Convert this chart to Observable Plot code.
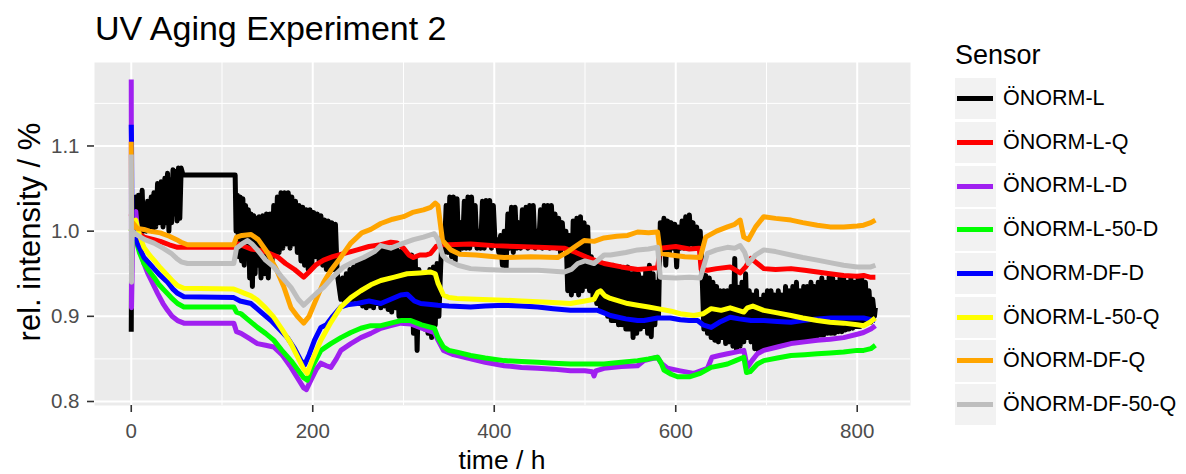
<!DOCTYPE html>
<html>
<head>
<meta charset="utf-8">
<script src="https://cdn.jsdelivr.net/npm/d3@7"></script>
<script src="https://cdn.jsdelivr.net/npm/@observablehq/plot@0.6"></script>
<style>
  html, body { margin: 0; padding: 0; background: #ffffff; }
  #wrap { position: relative; width: 1186px; height: 474px; overflow: hidden; background: #ffffff;
          font-family: "Liberation Sans", Arial, Helvetica, sans-serif; color: #000; }
  #chart { position: absolute; left: 0; top: 0; }
  .abs { position: absolute; white-space: nowrap; line-height: 1; }
  #title { left: 95px; top: 11px; font-size: 34px; }
  #xlab { left: 502px; top: 447px; font-size: 26.5px; transform: translateX(-50%); }
  #ylab { left: 29px; top: 232px; font-size: 31px; transform: translate(-50%, -50%) rotate(-90deg); }
  #legend { left: 955px; top: 42px; }
  #legend .ltitle { font-size: 27px; line-height: 27px; height: 35px; }
  #legend .row { display: flex; align-items: center; height: 43.7px; }
  #legend .key { width: 41px; height: 41.3px; background: #F2F2F2; display: flex; align-items: center; }
  #legend .key span { display: block; width: 36px; height: 5px; margin-left: 2px; }
  #legend .lab { font-size: 21.5px; margin-left: 7px; }
</style>
</head>
<body>
<div id="wrap">
  <div id="chart"></div>
  <div id="title" class="abs"></div>
  <div id="xlab" class="abs"></div>
  <div id="ylab" class="abs"></div>
  <div id="legend" class="abs"></div>
</div>
<script>
// ---------- text ----------
const titleText = "UV Aging Experiment 2";
const xLabel = "time / h";
const yLabel = "rel. intensity / %";
const legendTitle = "Sensor";

// ---------- categories & colours ----------
const sensors = ["ÖNORM-L", "ÖNORM-L-Q", "ÖNORM-L-D", "ÖNORM-L-50-D", "ÖNORM-DF-D", "ÖNORM-L-50-Q", "ÖNORM-DF-Q", "ÖNORM-DF-50-Q"];
const colors  = ["#000000", "#FF0000", "#A020F0", "#00FF00", "#0000FF", "#FFFF00", "#FFA500", "#BEBEBE"];

// ---------- ticks ----------
const xTicks = [0, 200, 400, 600, 800];
const xMinor = [100, 300, 500, 700];
const yTicks = [0.8, 0.9, 1.0, 1.1];
const yMinor = [0.85, 0.95, 1.05, 1.15];
const yTickLabels = ["0.8", "0.9", "1.0", "1.1"];

// ---------- series values: [time h, rel. intensity] ----------
const onormL = [
[0,0.882],[0.5,1.0],[2,1.035],[3.5,1.0],[5,1.04],[6.5,0.995],[8,1.042],[10,1.005],[12,1.048],[13.5,1.0],
[15,1.03],[16.5,1.0],[18,1.035],[20,1.005],[22,1.04],[23.5,1.0],[25,1.045],[27,1.005],[29,1.056],[31,1.01],
[33,1.058],[35,1.005],[37,1.062],[38.5,1.01],[40,1.068],[41.5,1.0],[43,1.06],[44.5,1.01],[46,1.072],[47.5,1.02],
[49,1.07],[50.5,1.012],[52,1.074],[53.5,1.015],[55,1.074],[57,1.066],[113,1.066],[114.5,1.066],[115.5,1.0],
[117,1.042],[118.5,0.97],[120,1.04],[121.5,0.965],[123,1.038],[124.5,0.96],[126,1.03],[127.5,0.97],[129,1.025],
[130.5,0.945],[132,1.02],[133.5,0.935],[135,1.018],[136.5,0.95],[138,1.015],[139.5,0.96],[141,1.017],[143,0.945],
[145,1.018],[147,0.95],[149,1.02],[151,0.945],[153,1.02],[155,0.96],[157,1.03],[159,0.975],[161,1.04],[163,0.975],
[165,1.045],[167,0.98],[169,1.045],[171,0.985],[173,1.045],[175,0.98],[177,1.04],[179,0.985],[181,1.035],[183,0.975],
[185,1.03],[187,0.965],[189,1.028],[191,0.96],[193,1.025],[195,0.955],[197,1.025],[199,0.96],[201,1.022],[203,0.97],
[205,1.02],[207,0.965],[209,1.018],[211,0.96],[213,1.013],[215,0.955],[217,1.012],[219,0.952],[221,1.01],[223,0.955],
[225,1.008],[227,0.95],[229,0.935],[231,0.92],[233,0.945],[235,0.915],[237,0.95],[239,0.918],[241,0.955],[243,0.915],
[245,0.958],[247,0.92],[249,0.962],[251,0.915],[253,0.966],[255,0.912],[257,0.968],[259,0.91],[261,0.97],[263,0.912],
[265,0.972],[267,0.91],[269,0.975],[271,0.915],[273,0.978],[275,0.91],[277,0.98],[279,0.912],[281,0.978],[283,0.908],
[285,0.98],[287,0.905],[289,0.978],[291,0.91],[293,0.978],[295,0.9],[297,0.976],[299,0.898],[301,0.975],[303,0.9],
[305,0.97],[307,0.895],[309,0.972],[311,0.88],[313,0.968],[315,0.86],[317,0.955],[319,0.89],[321,0.95],[323,0.885],
[325,0.948],[327,0.88],[329,0.955],[331,0.875],[333,0.958],[335,0.89],[337,0.962],[339,0.9],[341,0.96],[343,1.0],
[345,0.975],[347,1.03],[349,0.975],[351,1.04],[353,0.97],[355,1.04],[357,0.965],[359,1.038],[361,0.975],[363,1.01],
[365,0.98],[367,1.035],[369,0.98],[371,1.04],[373,0.98],[375,1.04],[377,0.985],[379,1.03],[381,0.98],[383,1.0],
[385,0.98],[387,1.035],[389,0.98],[391,1.036],[393,0.985],[395,1.036],[397,0.98],[399,1.03],[401,0.985],[403,0.99],
[405,0.975],[407,0.995],[409,0.96],[411,1.0],[413,0.955],[415,1.02],[417,0.98],[419,1.028],[421,0.975],[423,1.028],
[425,0.98],[427,1.01],[429,0.98],[431,1.025],[433,0.985],[435,1.028],[437,0.98],[439,1.03],[441,0.985],[443,1.03],
[445,0.98],[447,1.0],[449,0.985],[451,1.025],[453,0.98],[455,1.03],[457,0.985],[459,1.03],[461,0.98],[463,1.03],
[465,0.985],[467,1.02],[469,0.98],[471,1.015],[473,0.975],[475,1.01],[477,0.98],[479,1.0],[481,0.93],[483,0.995],
[485,0.925],[487,1.012],[489,0.93],[491,1.015],[493,0.925],[495,1.017],[497,0.93],[499,1.01],[501,0.935],[503,1.005],
[505,0.93],[507,0.97],[509,0.92],[511,0.965],[513,0.915],[515,0.96],[517,0.91],[519,0.958],[521,0.905],[523,0.96],
[525,0.9],[527,0.958],[529,0.895],[531,0.96],[533,0.895],[535,0.955],[537,0.89],[539,0.958],[541,0.89],[543,0.955],
[545,0.885],[547,0.958],[549,0.885],[551,0.95],[553,0.875],[555,0.955],[557,0.88],[559,0.95],[561,0.885],[563,0.945],
[565,0.888],[567,0.955],[569,0.88],[571,0.96],[573,0.876],[575,0.95],[577,0.89],[579,0.94],[581,0.9],[583,1.01],
[585,0.975],[587,1.015],[589,0.96],[591,1.012],[593,0.975],[595,1.01],[597,0.98],[599,1.008],[601,0.958],[603,1.005],
[605,0.98],[607,1.012],[609,0.98],[611,1.017],[613,0.98],[615,1.019],[617,0.985],[619,1.01],[621,0.98],[623,1.005],
[625,0.985],[627,1.0],[629,0.95],[631,0.885],[633,0.948],[635,0.88],[637,0.945],[639,0.875],[641,0.94],[643,0.872],
[645,0.935],[647,0.87],[649,0.93],[651,0.875],[653,0.93],[655,0.868],[657,0.93],[659,0.87],[661,0.935],[663,0.865],
[665,0.968],[667,0.86],[669,0.934],[671,0.865],[673,0.94],[675,0.87],[677,0.95],[679,0.875],[681,0.93],[683,0.87],
[685,0.925],[687,0.862],[689,0.93],[691,0.86],[693,0.92],[695,0.862],[697,0.925],[699,0.865],[701,0.93],[703,0.865],
[705,0.93],[707,0.864],[709,0.925],[711,0.868],[713,0.93],[715,0.868],[717,0.925],[719,0.868],[721,0.935],[723,0.87],
[725,0.93],[727,0.87],[729,0.935],[731,0.872],[733,0.94],[735,0.872],[737,0.93],[739,0.874],[741,0.935],[743,0.875],
[745,0.935],[747,0.874],[749,0.94],[751,0.876],[753,0.935],[755,0.875],[757,0.94],[759,0.878],[761,0.945],[763,0.878],
[765,0.94],[767,0.88],[769,0.946],[771,0.88],[773,0.945],[775,0.88],[777,0.94],[779,0.882],[781,0.945],[783,0.882],
[785,0.946],[787,0.884],[789,0.94],[791,0.885],[793,0.945],[795,0.886],[797,0.94],[799,0.888],[801,0.946],[803,0.888],
[805,0.946],[807,0.89],[809,0.94],[811,0.892],[813,0.93],[815,0.893],[817,0.92],[819,0.9],[820,0.91]
];

const onormLQ = [
[0,1.02],[1,1.01],[5,1.0],[14,0.993],[25,0.99],[32,0.988],[42,0.984],[51,0.981],[60,0.981],[113,0.981],[118,0.985],
[125,0.982],[132,0.979],[139,0.978],[150,0.975],[161,0.97],[170,0.962],[180,0.955],[190,0.946],[196,0.952],[203,0.96],
[212,0.966],[222,0.97],[235,0.974],[249,0.978],[262,0.982],[275,0.984],[286,0.987],[293,0.986],[300,0.98],[306,0.972],
[311,0.969],[318,0.972],[325,0.972],[330,0.974],[336,0.982],[342,0.984],[350,0.984],[374,0.985],[400,0.983],[425,0.982],
[448,0.981],[477,0.98],[490,0.975],[505,0.968],[521,0.962],[540,0.958],[558,0.955],[570,0.956],[580,0.957],[583,0.98],
[600,0.982],[615,0.979],[626,0.98],[628,0.955],[635,0.954],[645,0.956],[660,0.958],[671,0.951],[677,0.958],[683,0.968],
[690,0.962],[697,0.956],[710,0.955],[727,0.956],[742,0.954],[756,0.952],[770,0.95],[785,0.948],[800,0.947],[807,0.948],
[814,0.946],[820,0.946]
];

const onormLD = [
[0,1.178],[0.3,0.91],[0.8,0.94],[2,1.02],[5,1.023],[7,1.0],[10,0.978],[14,0.962],[18,0.951],[23,0.94],[29,0.927],
[35,0.915],[40,0.907],[45,0.9],[51,0.895],[58,0.892],[113,0.892],[116,0.882],[121,0.88],[130,0.874],[139,0.868],
[148,0.866],[157,0.864],[166,0.855],[176,0.84],[183,0.828],[190,0.816],[193,0.814],[198,0.825],[204,0.838],[209,0.845],
[215,0.842],[220,0.84],[226,0.85],[231,0.86],[242,0.868],[253,0.875],[264,0.88],[275,0.886],[286,0.889],[297,0.892],
[308,0.891],[320,0.886],[334,0.881],[338,0.872],[344,0.86],[355,0.855],[374,0.85],[390,0.846],[411,0.842],[430,0.84],
[448,0.839],[465,0.838],[484,0.836],[500,0.836],[508,0.835],[510,0.83],[512,0.836],[521,0.839],[540,0.841],[558,0.842],
[565,0.848],[580,0.852],[584,0.845],[591,0.839],[605,0.836],[620,0.833],[635,0.839],[640,0.852],[648,0.854],[657,0.856],
[666,0.858],[675,0.86],[679,0.84],[684,0.848],[690,0.856],[697,0.86],[712,0.864],[727,0.868],[742,0.87],[756,0.872],
[770,0.873],[785,0.875],[800,0.879],[807,0.881],[815,0.885],[820,0.889]
];

const onormL50D = [
[0,1.0],[1,1.01],[5,0.99],[9,0.975],[14,0.962],[20,0.953],[25,0.946],[30,0.938],[36,0.931],[44,0.922],[51,0.915],
[58,0.911],[113,0.911],[116,0.905],[121,0.903],[130,0.895],[139,0.887],[148,0.88],[157,0.872],[166,0.86],[176,0.848],
[183,0.838],[190,0.828],[194,0.825],[200,0.842],[209,0.86],[220,0.868],[231,0.875],[242,0.881],[253,0.886],[264,0.889],
[275,0.889],[286,0.892],[297,0.895],[308,0.895],[320,0.89],[334,0.886],[338,0.875],[344,0.864],[350,0.86],[359,0.858],
[374,0.854],[390,0.851],[411,0.848],[430,0.847],[448,0.846],[465,0.845],[484,0.844],[500,0.844],[521,0.844],[540,0.846],
[558,0.848],[570,0.85],[580,0.852],[584,0.845],[587,0.837],[595,0.832],[602,0.829],[615,0.829],[627,0.833],[639,0.84],
[648,0.842],[657,0.844],[666,0.848],[675,0.852],[678,0.834],[682,0.835],[690,0.844],[697,0.848],[712,0.851],[727,0.854],
[742,0.855],[756,0.856],[770,0.857],[785,0.858],[800,0.86],[807,0.86],[815,0.862],[820,0.866]
];

const onormDFD = [
[0,1.125],[0.3,1.105],[0.8,1.0],[2,1.005],[7,0.985],[14,0.969],[20,0.962],[25,0.956],[32,0.948],[40,0.94],[46,0.932],
[51,0.927],[58,0.923],[113,0.922],[120,0.918],[132,0.915],[143,0.905],[154,0.895],[163,0.885],[172,0.875],[180,0.862],
[187,0.848],[191,0.843],[196,0.855],[202,0.872],[209,0.887],[215,0.89],[222,0.9],[231,0.911],[240,0.914],[249,0.915],
[262,0.918],[275,0.915],[286,0.92],[297,0.925],[304,0.926],[312,0.918],[319,0.915],[330,0.914],[338,0.913],[350,0.912],
[374,0.911],[390,0.912],[411,0.913],[430,0.912],[448,0.911],[465,0.909],[484,0.907],[500,0.907],[514,0.907],[521,0.904],
[528,0.901],[545,0.897],[558,0.895],[565,0.895],[580,0.898],[594,0.898],[605,0.896],[615,0.895],[624,0.895],[630,0.89],
[639,0.887],[648,0.893],[660,0.899],[670,0.897],[683,0.895],[697,0.895],[712,0.894],[727,0.893],[740,0.895],[756,0.897],
[771,0.898],[785,0.898],[800,0.898],[807,0.898],[820,0.895]
];

const onormL50Q = [
[0,1.0],[1,1.01],[5,1.013],[9,0.995],[14,0.981],[20,0.972],[25,0.966],[32,0.957],[40,0.948],[46,0.941],[51,0.936],
[58,0.933],[113,0.932],[118,0.93],[125,0.927],[132,0.924],[139,0.919],[148,0.91],[157,0.899],[166,0.885],[176,0.868],
[183,0.853],[190,0.838],[194,0.833],[200,0.85],[209,0.872],[220,0.893],[231,0.911],[242,0.922],[253,0.93],[264,0.937],
[275,0.942],[290,0.946],[304,0.95],[318,0.951],[330,0.952],[335,0.95],[338,0.939],[344,0.925],[350,0.922],[359,0.921],
[380,0.92],[411,0.919],[430,0.918],[448,0.917],[470,0.916],[484,0.915],[500,0.918],[510,0.92],[514,0.928],[517,0.93],
[522,0.924],[528,0.921],[547,0.915],[558,0.913],[570,0.911],[580,0.909],[595,0.906],[605,0.903],[620,0.901],[630,0.903],
[639,0.909],[650,0.907],[660,0.91],[675,0.905],[679,0.91],[685,0.912],[697,0.907],[712,0.904],[727,0.901],[740,0.898],
[756,0.895],[770,0.893],[785,0.892],[800,0.89],[807,0.889],[814,0.893],[820,0.898]
];

const onormDFQ = [
[0,1.105],[0.5,0.99],[1.5,1.01],[7,1.003],[14,1.002],[20,1.0],[32,0.998],[42,0.994],[50,0.99],[55,0.987],[62,0.984],
[113,0.984],[116,0.993],[122,0.995],[132,0.996],[140,0.99],[150,0.975],[160,0.955],[168,0.935],[176,0.91],[183,0.9],
[190,0.892],[196,0.9],[203,0.918],[212,0.94],[220,0.954],[230,0.968],[242,0.986],[254,0.998],[264,1.002],[275,1.009],
[288,1.014],[300,1.017],[310,1.022],[322,1.025],[330,1.028],[335,1.033],[338,1.03],[343,0.989],[352,0.978],[362,0.973],
[380,0.972],[400,0.97],[411,0.969],[440,0.97],[470,0.969],[480,0.975],[488,0.981],[499,0.989],[510,0.988],[521,0.992],
[535,0.994],[547,0.995],[558,0.999],[570,0.998],[580,0.999],[583,0.974],[595,0.972],[610,0.97],[627,0.969],[633,0.993],
[645,1.0],[657,1.005],[665,1.008],[671,1.013],[675,0.993],[680,0.99],[688,1.005],[697,1.017],[710,1.015],[727,1.013],
[740,1.01],[756,1.007],[770,1.005],[785,1.005],[800,1.006],[807,1.007],[815,1.01],[820,1.013]
];

const onormDF50Q = [
[0,1.09],[0.3,0.94],[1,1.0],[7,0.995],[15,0.99],[25,0.986],[35,0.98],[44,0.974],[50,0.968],[55,0.964],[62,0.962],
[113,0.962],[116,0.98],[122,0.985],[128,0.989],[133,0.985],[139,0.978],[148,0.966],[157,0.958],[166,0.946],[176,0.934],
[184,0.92],[190,0.913],[197,0.92],[205,0.928],[212,0.934],[222,0.946],[234,0.958],[245,0.964],[256,0.969],[268,0.976],
[275,0.983],[286,0.98],[300,0.986],[311,0.99],[322,0.993],[334,0.997],[338,0.99],[343,0.972],[348,0.966],[360,0.96],
[374,0.956],[390,0.955],[411,0.954],[430,0.954],[448,0.954],[465,0.953],[477,0.952],[485,0.955],[492,0.962],[500,0.965],
[510,0.962],[521,0.972],[528,0.972],[545,0.975],[558,0.978],[570,0.979],[580,0.981],[583,0.946],[600,0.945],[615,0.946],
[627,0.945],[635,0.974],[645,0.978],[657,0.981],[665,0.98],[671,0.983],[676,0.975],[680,0.962],[688,0.972],[697,0.978],
[710,0.976],[727,0.972],[740,0.969],[756,0.966],[770,0.963],[785,0.96],[800,0.958],[807,0.958],[815,0.958],[820,0.96]
];

const seriesValues = [onormL, onormLQ, onormLD, onormL50D, onormDFD, onormL50Q, onormDFQ, onormDF50Q];

// ---------- build table ----------
const rows = sensors.flatMap((s, i) => seriesValues[i].map(([t, v]) => ({sensor: s, t, v})));

const font = '"Liberation Sans", Arial, Helvetica, sans-serif';

const chart = Plot.plot({
  width: 1186,
  height: 474,
  marginLeft: 94,
  marginRight: 276,
  marginTop: 62,
  marginBottom: 69,
  style: {fontFamily: font, background: "transparent", overflow: "visible"},
  x: {domain: [-40.5, 858.7], label: null},
  y: {domain: [0.7953, 1.198], label: null},
  color: {domain: sensors, range: colors},
  marks: [
    Plot.frame({fill: "#EBEBEB", stroke: "none"}),
    Plot.gridX(xMinor, {stroke: "#ffffff", strokeOpacity: 1, strokeWidth: 1}),
    Plot.gridY(yMinor, {stroke: "#ffffff", strokeOpacity: 1, strokeWidth: 1}),
    Plot.gridX(xTicks, {stroke: "#ffffff", strokeOpacity: 1, strokeWidth: 2}),
    Plot.gridY(yTicks, {stroke: "#ffffff", strokeOpacity: 1, strokeWidth: 2}),
    Plot.line(rows, {x: "t", y: "v", z: "sensor", stroke: "sensor", strokeWidth: 5,
                     strokeLinejoin: "round", strokeLinecap: "butt"}),
    Plot.axisX(xTicks, {tickSize: 7, tickPadding: 11, fontSize: 20.5, fill: "#4D4D4D",
                        stroke: "#333333", strokeWidth: 1.6, label: null}),
    Plot.axisY(yTicks, {tickSize: 7, tickPadding: 8, fontSize: 20.5, fill: "#4D4D4D",
                        stroke: "#333333", strokeWidth: 1.6, label: null,
                        tickFormat: (d) => yTickLabels[yTicks.indexOf(d)]})
  ]
});
document.getElementById("chart").appendChild(chart);

// ---------- texts ----------
document.getElementById("title").textContent = titleText;
document.getElementById("xlab").textContent = xLabel;
document.getElementById("ylab").textContent = yLabel;

// ---------- legend ----------
const leg = document.getElementById("legend");
const lt = document.createElement("div");
lt.className = "ltitle";
lt.textContent = legendTitle;
leg.appendChild(lt);
sensors.forEach((s, i) => {
  const row = document.createElement("div");
  row.className = "row";
  const key = document.createElement("div");
  key.className = "key";
  const sw = document.createElement("span");
  sw.style.background = colors[i];
  key.appendChild(sw);
  const lab = document.createElement("div");
  lab.className = "lab";
  lab.textContent = s;
  row.appendChild(key);
  row.appendChild(lab);
  leg.appendChild(row);
});
</script>
</body>
</html>
